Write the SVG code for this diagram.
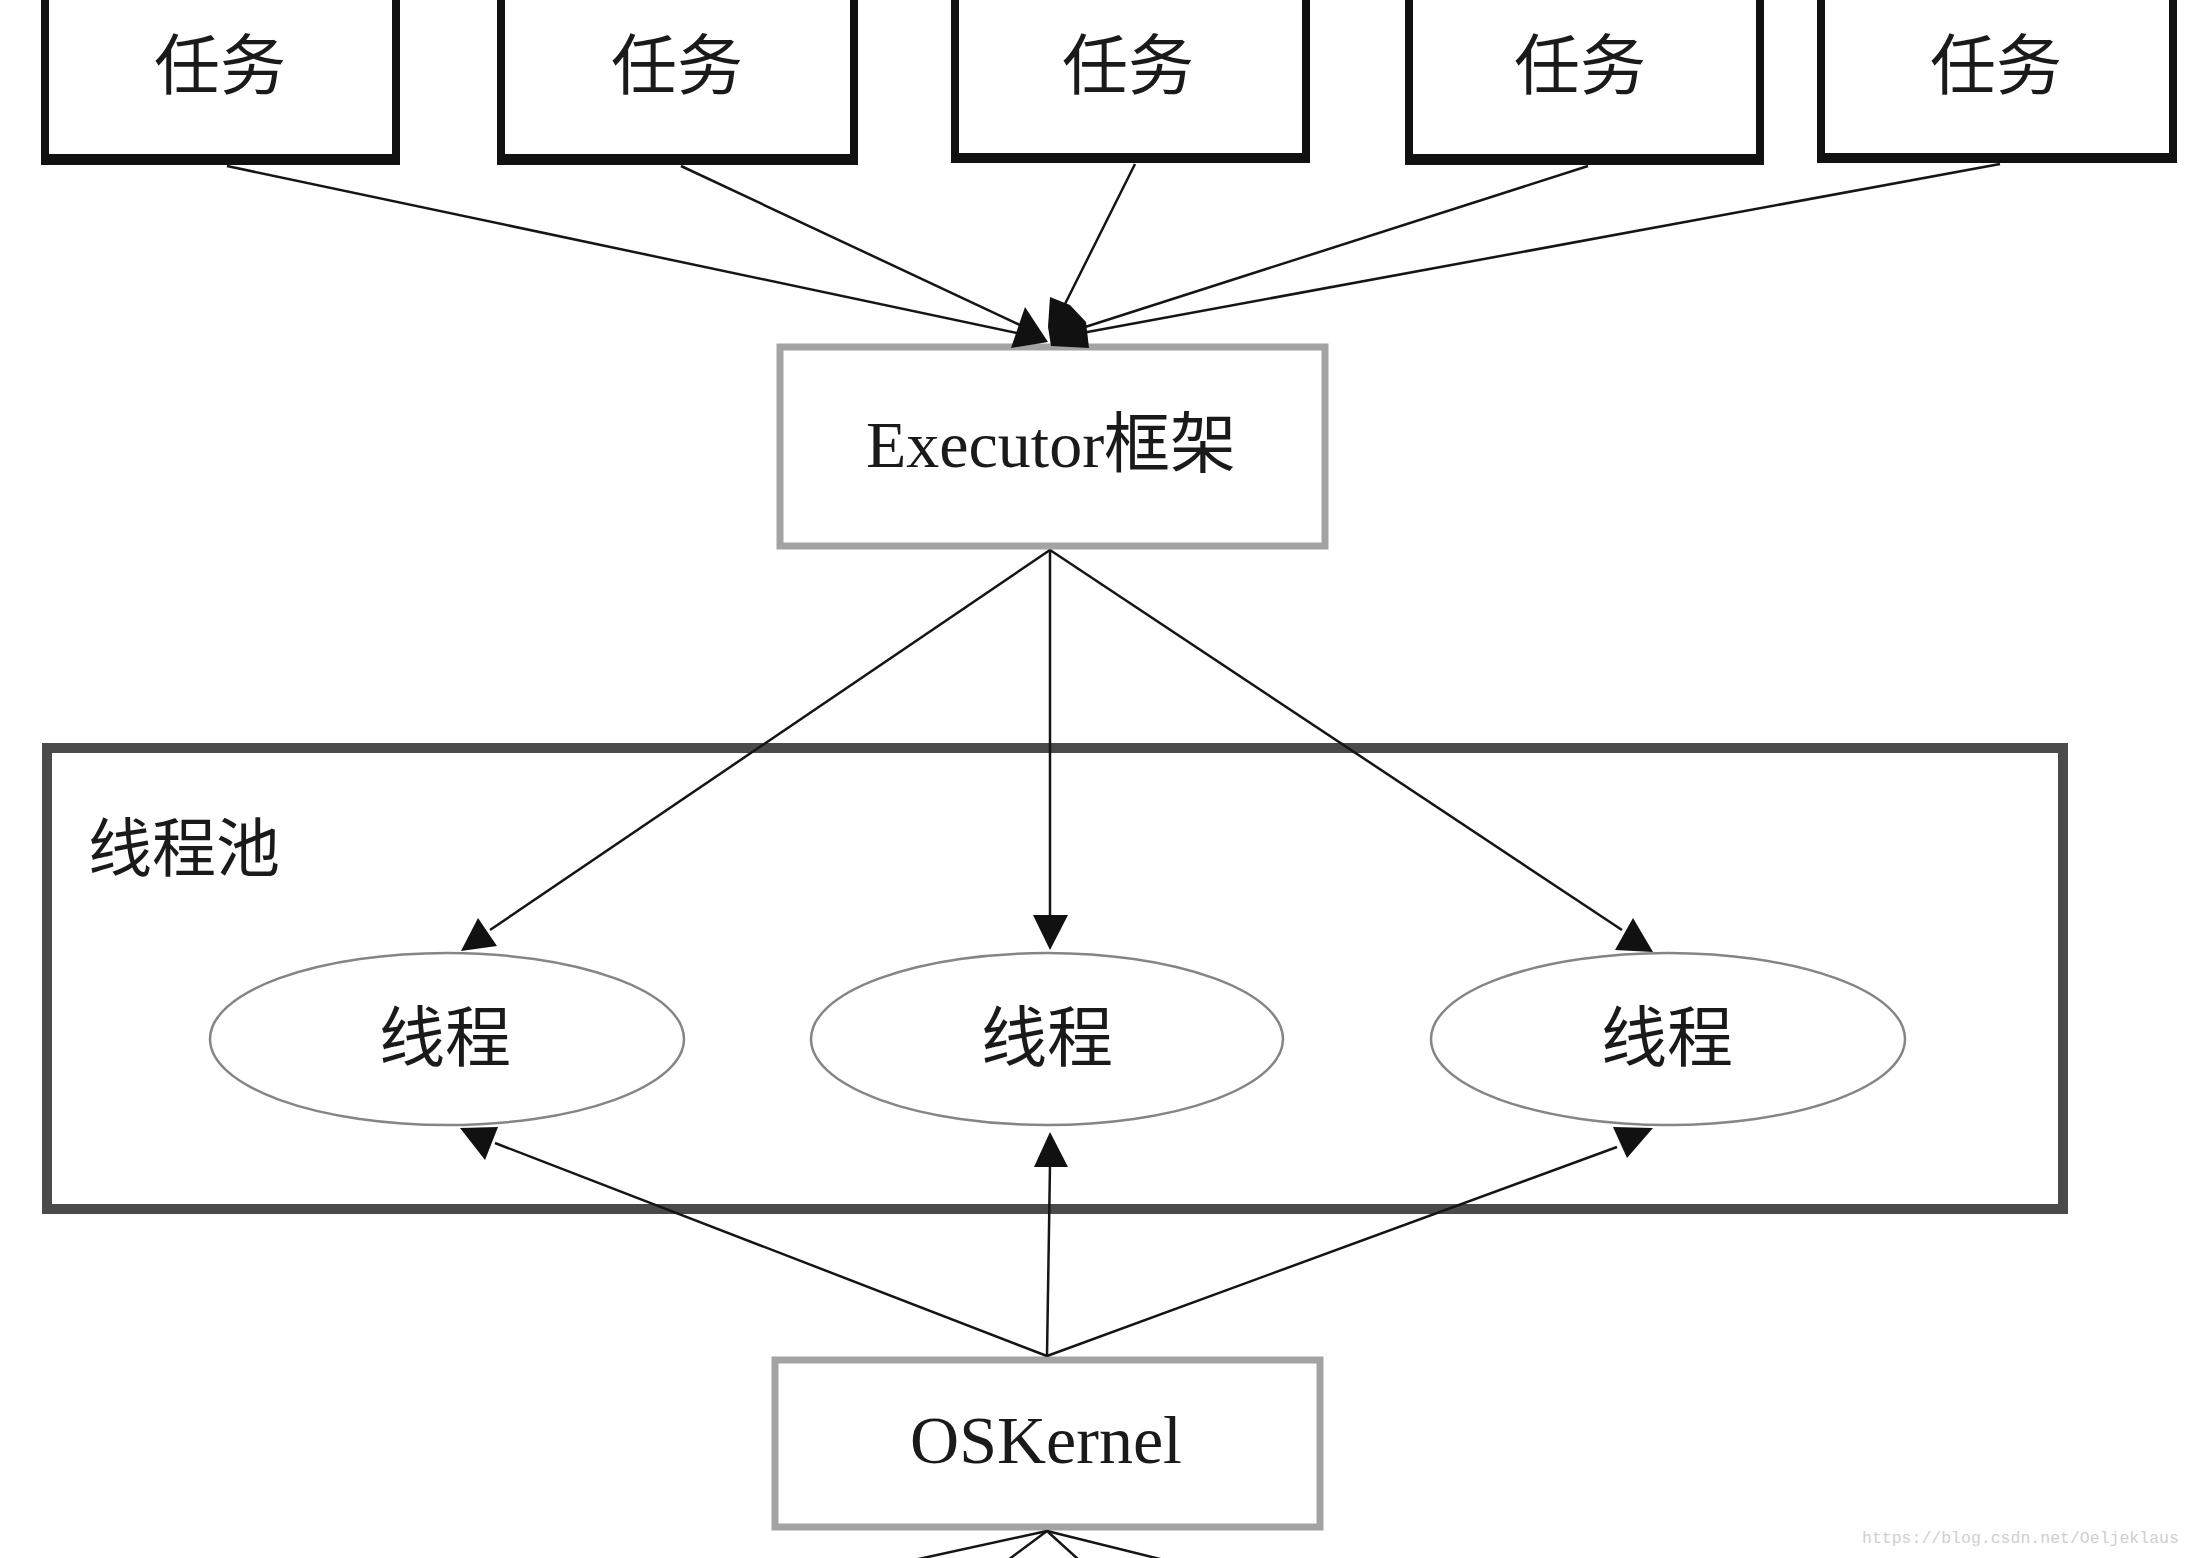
<svg xmlns="http://www.w3.org/2000/svg" width="2192" height="1558" viewBox="0 0 2192 1558">
<style>
.cjk{font-family:"Noto Sans CJK SC","Noto Sans",sans-serif;fill:#1a1a1a}
.lat{font-family:"Liberation Serif","Noto Sans CJK SC",serif;fill:#1a1a1a}
.taskbox{fill:#fff;stroke:#111;stroke-width:8}
.taskbar{fill:#111}
.grey{fill:#fff;stroke:#a3a3a3;stroke-width:7}
.pool{fill:none;stroke:#4a4a4a;stroke-width:10}
.thread{fill:#fff;stroke:#858585;stroke-width:2.5}
.edge{stroke:#151515;stroke-width:2.5;fill:none}
.head{fill:#111}
</style>
<rect width="2192" height="1558" fill="#fff"/>
<g id="pool">
<rect class="pool" x="47" y="748" width="2016" height="461"/>
<text class="cjk" x="88" y="871" font-size="64">线程池</text>
</g>
<g id="task1"><rect class="taskbox" x="45" y="-20" width="351" height="181"/><rect class="taskbar" x="41" y="154" width="359" height="11"/><text class="cjk" x="220" y="89" font-size="66" text-anchor="middle">任务</text></g>
<g id="task2"><rect class="taskbox" x="501" y="-20" width="353" height="181"/><rect class="taskbar" x="497" y="154" width="361" height="11"/><text class="cjk" x="677" y="89" font-size="66" text-anchor="middle">任务</text></g>
<g id="task3"><rect class="taskbox" x="955" y="-20" width="351" height="179"/><rect class="taskbar" x="951" y="153" width="359" height="10"/><text class="cjk" x="1128" y="89" font-size="66" text-anchor="middle">任务</text></g>
<g id="task4"><rect class="taskbox" x="1409" y="-20" width="351" height="181"/><rect class="taskbar" x="1405" y="154" width="359" height="11"/><text class="cjk" x="1580" y="89" font-size="66" text-anchor="middle">任务</text></g>
<g id="task5"><rect class="taskbox" x="1821" y="-20" width="352" height="179"/><rect class="taskbar" x="1817" y="153" width="360" height="10"/><text class="cjk" x="1996" y="89" font-size="66" text-anchor="middle">任务</text></g>
<g id="executor"><rect class="grey" x="780" y="347" width="545" height="199"/><text class="lat" x="1051" y="467" font-size="66" text-anchor="middle">Executor框架</text></g>
<g id="thread1"><ellipse class="thread" cx="447" cy="1039" rx="237" ry="86"/><text class="cjk" x="445" y="1061" font-size="66" text-anchor="middle">线程</text></g>
<g id="thread2"><ellipse class="thread" cx="1047" cy="1039" rx="236" ry="86"/><text class="cjk" x="1047" y="1061" font-size="66" text-anchor="middle">线程</text></g>
<g id="thread3"><ellipse class="thread" cx="1668" cy="1039" rx="237" ry="86"/><text class="cjk" x="1667" y="1061" font-size="66" text-anchor="middle">线程</text></g>
<g id="oskernel"><rect class="grey" x="775" y="1360" width="545" height="167"/><text class="lat" x="1046" y="1463" font-size="68" text-anchor="middle">OSKernel</text></g>
<g id="connectors">
<line class="edge" x1="227" y1="166" x2="1022" y2="334"/>
<line class="edge" x1="681" y1="166" x2="1022" y2="326"/>
<line class="edge" x1="1135" y1="164" x2="1064" y2="306"/>
<line class="edge" x1="1588" y1="166" x2="1082" y2="328"/>
<line class="edge" x1="2000" y1="164" x2="1082" y2="333"/>
<polygon class="head" points="1025,307 1011,348 1048,342"/>
<polygon class="head" points="1050,297 1070,305 1086,322 1089,348 1051,346 1048,327"/>
<line class="edge" x1="1050" y1="550" x2="490" y2="930"/>
<line class="edge" x1="1050" y1="550" x2="1050" y2="920"/>
<line class="edge" x1="1050" y1="550" x2="1622" y2="930"/>
<polygon class="head" points="478,918 461,951 497,946"/>
<polygon class="head" points="1033,915 1068,915 1050,950"/>
<polygon class="head" points="1633,918 1615,950 1653,952"/>
<line class="edge" x1="1047" y1="1356" x2="495" y2="1143"/>
<line class="edge" x1="1047" y1="1356" x2="1050" y2="1165"/>
<line class="edge" x1="1047" y1="1356" x2="1617" y2="1147"/>
<polygon class="head" points="460,1128 498,1127 485,1160"/>
<polygon class="head" points="1050,1132 1068,1167 1034,1167"/>
<polygon class="head" points="1613,1127 1653,1128 1627,1158"/>
<line class="edge" x1="1047" y1="1531" x2="914" y2="1560"/>
<line class="edge" x1="1047" y1="1531" x2="1008" y2="1560"/>
<line class="edge" x1="1047" y1="1531" x2="1079" y2="1560"/>
<line class="edge" x1="1047" y1="1531" x2="1164" y2="1560"/>
</g>
<text x="1862" y="1543" font-family="Liberation Mono, monospace" font-size="16.5" fill="#cfcfcf">https://blog.csdn.net/Oeljeklaus</text>
</svg>
